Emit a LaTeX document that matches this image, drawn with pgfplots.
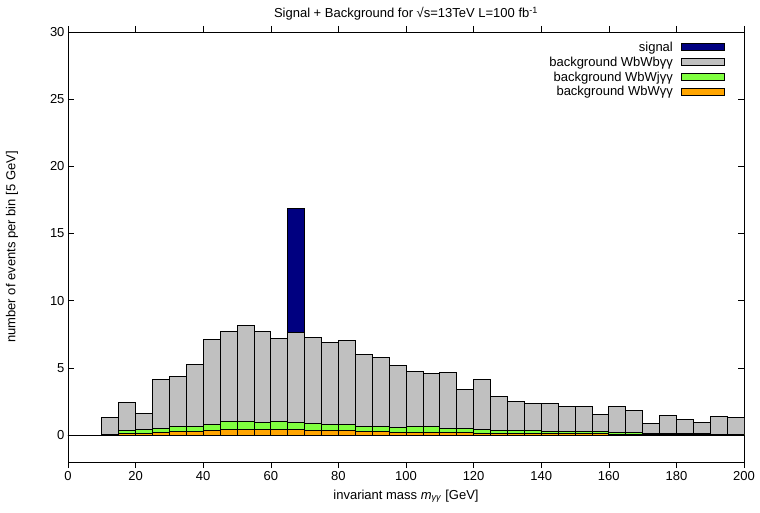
\documentclass[border=0pt]{standalone}
\usepackage{fontspec}
\setmainfont{Liberation Sans}
\usepackage{pgfplots}
\pgfplotsset{compat=1.18}

\definecolor{sigblue}{RGB}{0,0,128}
\definecolor{bggray}{RGB}{192,192,192}
\definecolor{bggreen}{RGB}{128,255,64}
\definecolor{bgorange}{RGB}{255,165,0}

\pgfplotsset{
  boxlegend/.style={legend image code/.code={
    \path[draw=none, fill=none] (0pt,0pt) -- (7pt,0pt);
    \draw[##1,line width=0.8pt] (7pt,-3.5pt) rectangle (50pt,3.5pt);}},
}

\begin{document}
\begin{tikzpicture}
\begin{axis}[
    scale only axis,
    width=676pt, height=430pt,
    xmin=0, xmax=200, ymin=-2, ymax=30,
    xtick={0,20,...,200},
    ytick={0,5,...,30},
    major tick length=6pt,
    axis line style={line width=0.8pt},
    every tick/.style={line width=0.6pt, black},
    tick label style={font=\fontsize{13}{15}\selectfont},
    /pgf/number format/assume math mode=true,
    label style={font=\fontsize{13}{15}\selectfont},
    xlabel style={yshift=-2pt},
    ylabel style={at={(axis description cs:-0.083,0.5)}, anchor=center},
    title style={font=\fontsize{13}{15}\selectfont, yshift=2pt},
    title={Signal + Background for √s=13TeV L=100 fb\textsuperscript{-1}},
    xlabel={invariant mass \textit{m}\textsubscript{\textit{γγ}} [GeV]},
    ylabel={number of events per bin [5 GeV]},
    ybar, bar width=5,
    legend cell align=right,
    legend plot pos=right,
    legend style={draw=none, fill=none, at={(0.977,0.987)}, anchor=north east,
      font=\fontsize{13}{15}\selectfont, row sep=0pt,
      nodes={inner sep=2pt}},
]
\addplot[bar shift=0pt, fill=sigblue, draw=black, line width=0.8pt, boxlegend]
  coordinates {(67.5,16.9)};
\addlegendentry{signal}

\addplot[bar shift=0pt, fill=bggray, draw=black, line width=0.8pt, boxlegend]
  coordinates {
  (2.5,0) (7.5,0) (12.5,1.32) (17.5,2.46) (22.5,1.64) (27.5,4.12) (32.5,4.34)
  (37.5,5.24) (42.5,7.15) (47.5,7.74) (52.5,8.17) (57.5,7.74) (62.5,7.2)
  (67.5,7.65) (72.5,7.3) (77.5,6.92) (82.5,7.02) (87.5,5.98) (92.5,5.76)
  (97.5,5.2) (102.5,4.72) (107.5,4.57) (112.5,4.67) (117.5,3.42) (122.5,4.12)
  (127.5,2.9) (132.5,2.48) (137.5,2.33) (142.5,2.33) (147.5,2.11) (152.5,2.11)
  (157.5,1.56) (162.5,2.11) (167.5,1.84) (172.5,0.87) (177.5,1.46)
  (182.5,1.17) (187.5,0.92) (192.5,1.36) (197.5,1.29)};
\addlegendentry{background WbWbγγ}

\addplot[bar shift=0pt, fill=bggreen, draw=black, line width=0.8pt, boxlegend]
  coordinates {
  (12.5,0.03) (17.5,0.35) (22.5,0.42) (27.5,0.52) (32.5,0.64) (37.5,0.64)
  (42.5,0.79) (47.5,0.99) (52.5,1.02) (57.5,0.97) (62.5,1.02) (67.5,0.94)
  (72.5,0.87) (77.5,0.82) (82.5,0.82) (87.5,0.64) (92.5,0.64) (97.5,0.6)
  (102.5,0.62) (107.5,0.62) (112.5,0.5) (117.5,0.5) (122.5,0.42) (127.5,0.37)
  (132.5,0.35) (137.5,0.35) (142.5,0.27) (147.5,0.27) (152.5,0.25) (157.5,0.25)
  (162.5,0.2) (167.5,0.2) (172.5,0.12) (177.5,0.12) (182.5,0.12) (187.5,0.1)
  (192.5,0.08) (197.5,0.08)};
\addlegendentry{background WbWjγγ}

\addplot[bar shift=0pt, fill=bgorange, draw=black, line width=0.8pt, boxlegend]
  coordinates {
  (12.5,0.02) (17.5,0.15) (22.5,0.15) (27.5,0.2) (32.5,0.27) (37.5,0.27)
  (42.5,0.35) (47.5,0.42) (52.5,0.42) (57.5,0.42) (62.5,0.42) (67.5,0.4)
  (72.5,0.37) (77.5,0.35) (82.5,0.32) (87.5,0.27) (92.5,0.27) (97.5,0.22)
  (102.5,0.22) (107.5,0.22) (112.5,0.2) (117.5,0.2) (122.5,0.15) (127.5,0.15)
  (132.5,0.12) (137.5,0.12) (142.5,0.1) (147.5,0.1) (152.5,0.1) (157.5,0.1)
  (162.5,0.07) (167.5,0.07) (172.5,0.07) (177.5,0.07) (182.5,0.07) (187.5,0.07)
  (192.5,0.05) (197.5,0.05)};
\addlegendentry{background WbWγγ}
\end{axis}
\pgfresetboundingbox
\path (-68pt,-50pt) rectangle (692pt,462pt);
\end{tikzpicture}
\end{document}
